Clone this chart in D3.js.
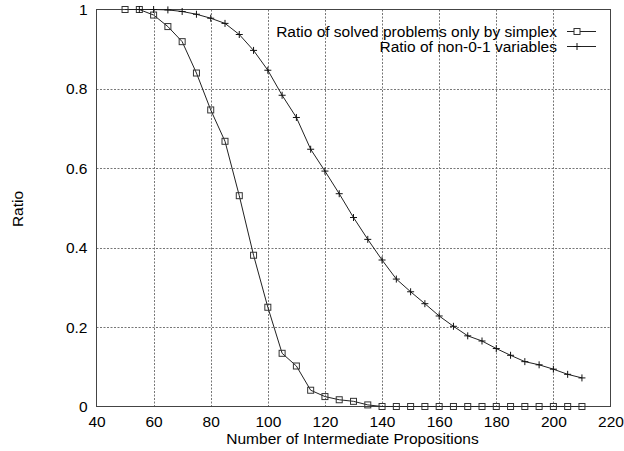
<!DOCTYPE html>
<html>
<head>
<meta charset="utf-8">
<script src="https://cdn.jsdelivr.net/npm/d3@7"></script>
<style>
  html, body { margin: 0; padding: 0; background: #fff; }
  svg { display: block; }
  text { font-family: "Liberation Sans", Arial, Helvetica, sans-serif; fill: #000; }
</style>
</head>
<body>
<svg id="chart" width="624" height="451"></svg>
<script>
// ---- Data ----
const xSimplex = [50,55,60,65,70,75,80,85,90,95,100,105,110,115,120,125,130,135,140,145,150,155,160,165,170,175,180,185,190,195,200,205,210];
const ySimplex = [1.0,1.0,0.986,0.957,0.919,0.840,0.747,0.668,0.531,0.381,0.250,0.134,0.102,0.041,0.025,0.017,0.013,0.004,0,0,0,0,0,0,0,0,0,0,0,0,0,0,0];
const xNon01 = [55,60,65,70,75,80,85,90,95,100,105,110,115,120,125,130,135,140,145,150,155,160,165,170,175,180,185,190,195,200,205,210];
const yNon01 = [1.0,1.0,0.999,0.995,0.988,0.978,0.965,0.937,0.897,0.847,0.784,0.728,0.648,0.593,0.536,0.476,0.421,0.369,0.321,0.289,0.259,0.228,0.202,0.178,0.165,0.146,0.129,0.113,0.105,0.094,0.081,0.072];
const xTicks = [40,60,80,100,120,140,160,180,200,220];
const yTicks = [0,0.2,0.4,0.6,0.8,1];
const seriesNames = ["Ratio of solved problems only by simplex", "Ratio of non-0-1 variables"];
const xLabel = "Number of Intermediate Propositions";
const yLabel = "Ratio";

// ---- Layout ----
const svg = d3.select("#chart");
const L = 96.5, R = 610.5, T = 9.5, B = 406.5;
const x = d3.scaleLinear().domain([40,220]).range([L,R]);
const y = d3.scaleLinear().domain([0,1]).range([B,T]);
const fs = "15.5px";
const lineColor = "#222";

// grid
const grid = svg.append("g");
grid.selectAll("line.gx").data(xTicks.filter(d => d > 40 && d < 220)).enter().append("line")
  .attr("x1", d => Math.round(x(d)) + 0.5).attr("x2", d => Math.round(x(d)) + 0.5)
  .attr("y1", T).attr("y2", B)
  .attr("stroke", "#777").attr("stroke-width", 1).attr("stroke-dasharray", "2,1.5");
grid.selectAll("line.gy").data(yTicks.filter(d => d > 0 && d < 1)).enter().append("line")
  .attr("y1", d => Math.round(y(d)) + 0.5).attr("y2", d => Math.round(y(d)) + 0.5)
  .attr("x1", L).attr("x2", R)
  .attr("stroke", "#777").attr("stroke-width", 1).attr("stroke-dasharray", "2,1.5");

// axes (labels only, via d3 axes)
const xAxis = svg.append("g").attr("transform", `translate(0,${B})`)
  .call(d3.axisBottom(x).tickValues(xTicks).tickSize(0).tickPadding(9).tickFormat(d3.format("d")));
xAxis.select(".domain").remove();
xAxis.selectAll("text").style("font-size", fs).style("font-family", "Liberation Sans, Arial, sans-serif").attr("fill", "#000");

const yAxis = svg.append("g").attr("transform", `translate(${L},0)`)
  .call(d3.axisLeft(y).tickValues(yTicks).tickSize(0).tickPadding(9).tickFormat(d => d3.format("")(d)));
yAxis.select(".domain").remove();
yAxis.selectAll("text").style("font-size", fs).style("font-family", "Liberation Sans, Arial, sans-serif").attr("fill", "#000");

// frame
svg.append("rect").attr("x", L).attr("y", T).attr("width", R - L).attr("height", B - T)
  .attr("fill", "none").attr("stroke", "#444").attr("stroke-width", 1);

// axis titles
svg.append("text").attr("x", (L + R) / 2 - 1).attr("y", 444)
  .attr("text-anchor", "middle").style("font-size", fs).text(xLabel);
svg.append("text").attr("transform", `translate(23,${(T + B) / 2 + 1}) rotate(-90)`)
  .attr("text-anchor", "middle").style("font-size", fs).text(yLabel);

// series lines
const line = d3.line().x(d => x(d[0])).y(d => y(d[1]));
const s1 = xSimplex.map((d, i) => [d, ySimplex[i]]);
const s2 = xNon01.map((d, i) => [d, yNon01[i]]);
svg.append("path").datum(s1).attr("d", line).attr("fill", "none").attr("stroke", lineColor).attr("stroke-width", 1);
svg.append("path").datum(s2).attr("d", line).attr("fill", "none").attr("stroke", lineColor).attr("stroke-width", 1);

// markers
const sq = 6;
svg.append("g").selectAll("rect").data(s1).enter().append("rect")
  .attr("x", d => x(d[0]) - sq / 2).attr("y", d => y(d[1]) - sq / 2)
  .attr("width", sq).attr("height", sq)
  .attr("fill", "none").attr("stroke", "#333").attr("stroke-width", 1);
const pl = 3.5;
const plusPath = (cx, cy) => `M${cx - pl},${cy}H${cx + pl}M${cx},${cy - pl}V${cy + pl}`;
svg.append("g").selectAll("path").data(s2).enter().append("path")
  .attr("d", d => plusPath(x(d[0]), y(d[1])))
  .attr("fill", "none").attr("stroke", "#111").attr("stroke-width", 1);

// legend
const legY = [31.5, 46.5];
const lx1 = 567, lx2 = 596, lm = 577;
seriesNames.forEach((name, i) => {
  svg.append("text").attr("x", 557).attr("y", legY[i]).attr("dy", "0.36em")
    .attr("text-anchor", "end").style("font-size", fs).text(name);
  svg.append("line").attr("x1", lx1).attr("x2", lx2).attr("y1", legY[i]).attr("y2", legY[i])
    .attr("stroke", lineColor).attr("stroke-width", 1);
});
svg.append("rect").attr("x", lm - sq / 2).attr("y", legY[0] - sq / 2).attr("width", sq).attr("height", sq)
  .attr("fill", "#fff").attr("stroke", "#333").attr("stroke-width", 1);
svg.append("path").attr("d", plusPath(lm, legY[1])).attr("fill", "none").attr("stroke", "#111").attr("stroke-width", 1);
</script>
</body>
</html>
